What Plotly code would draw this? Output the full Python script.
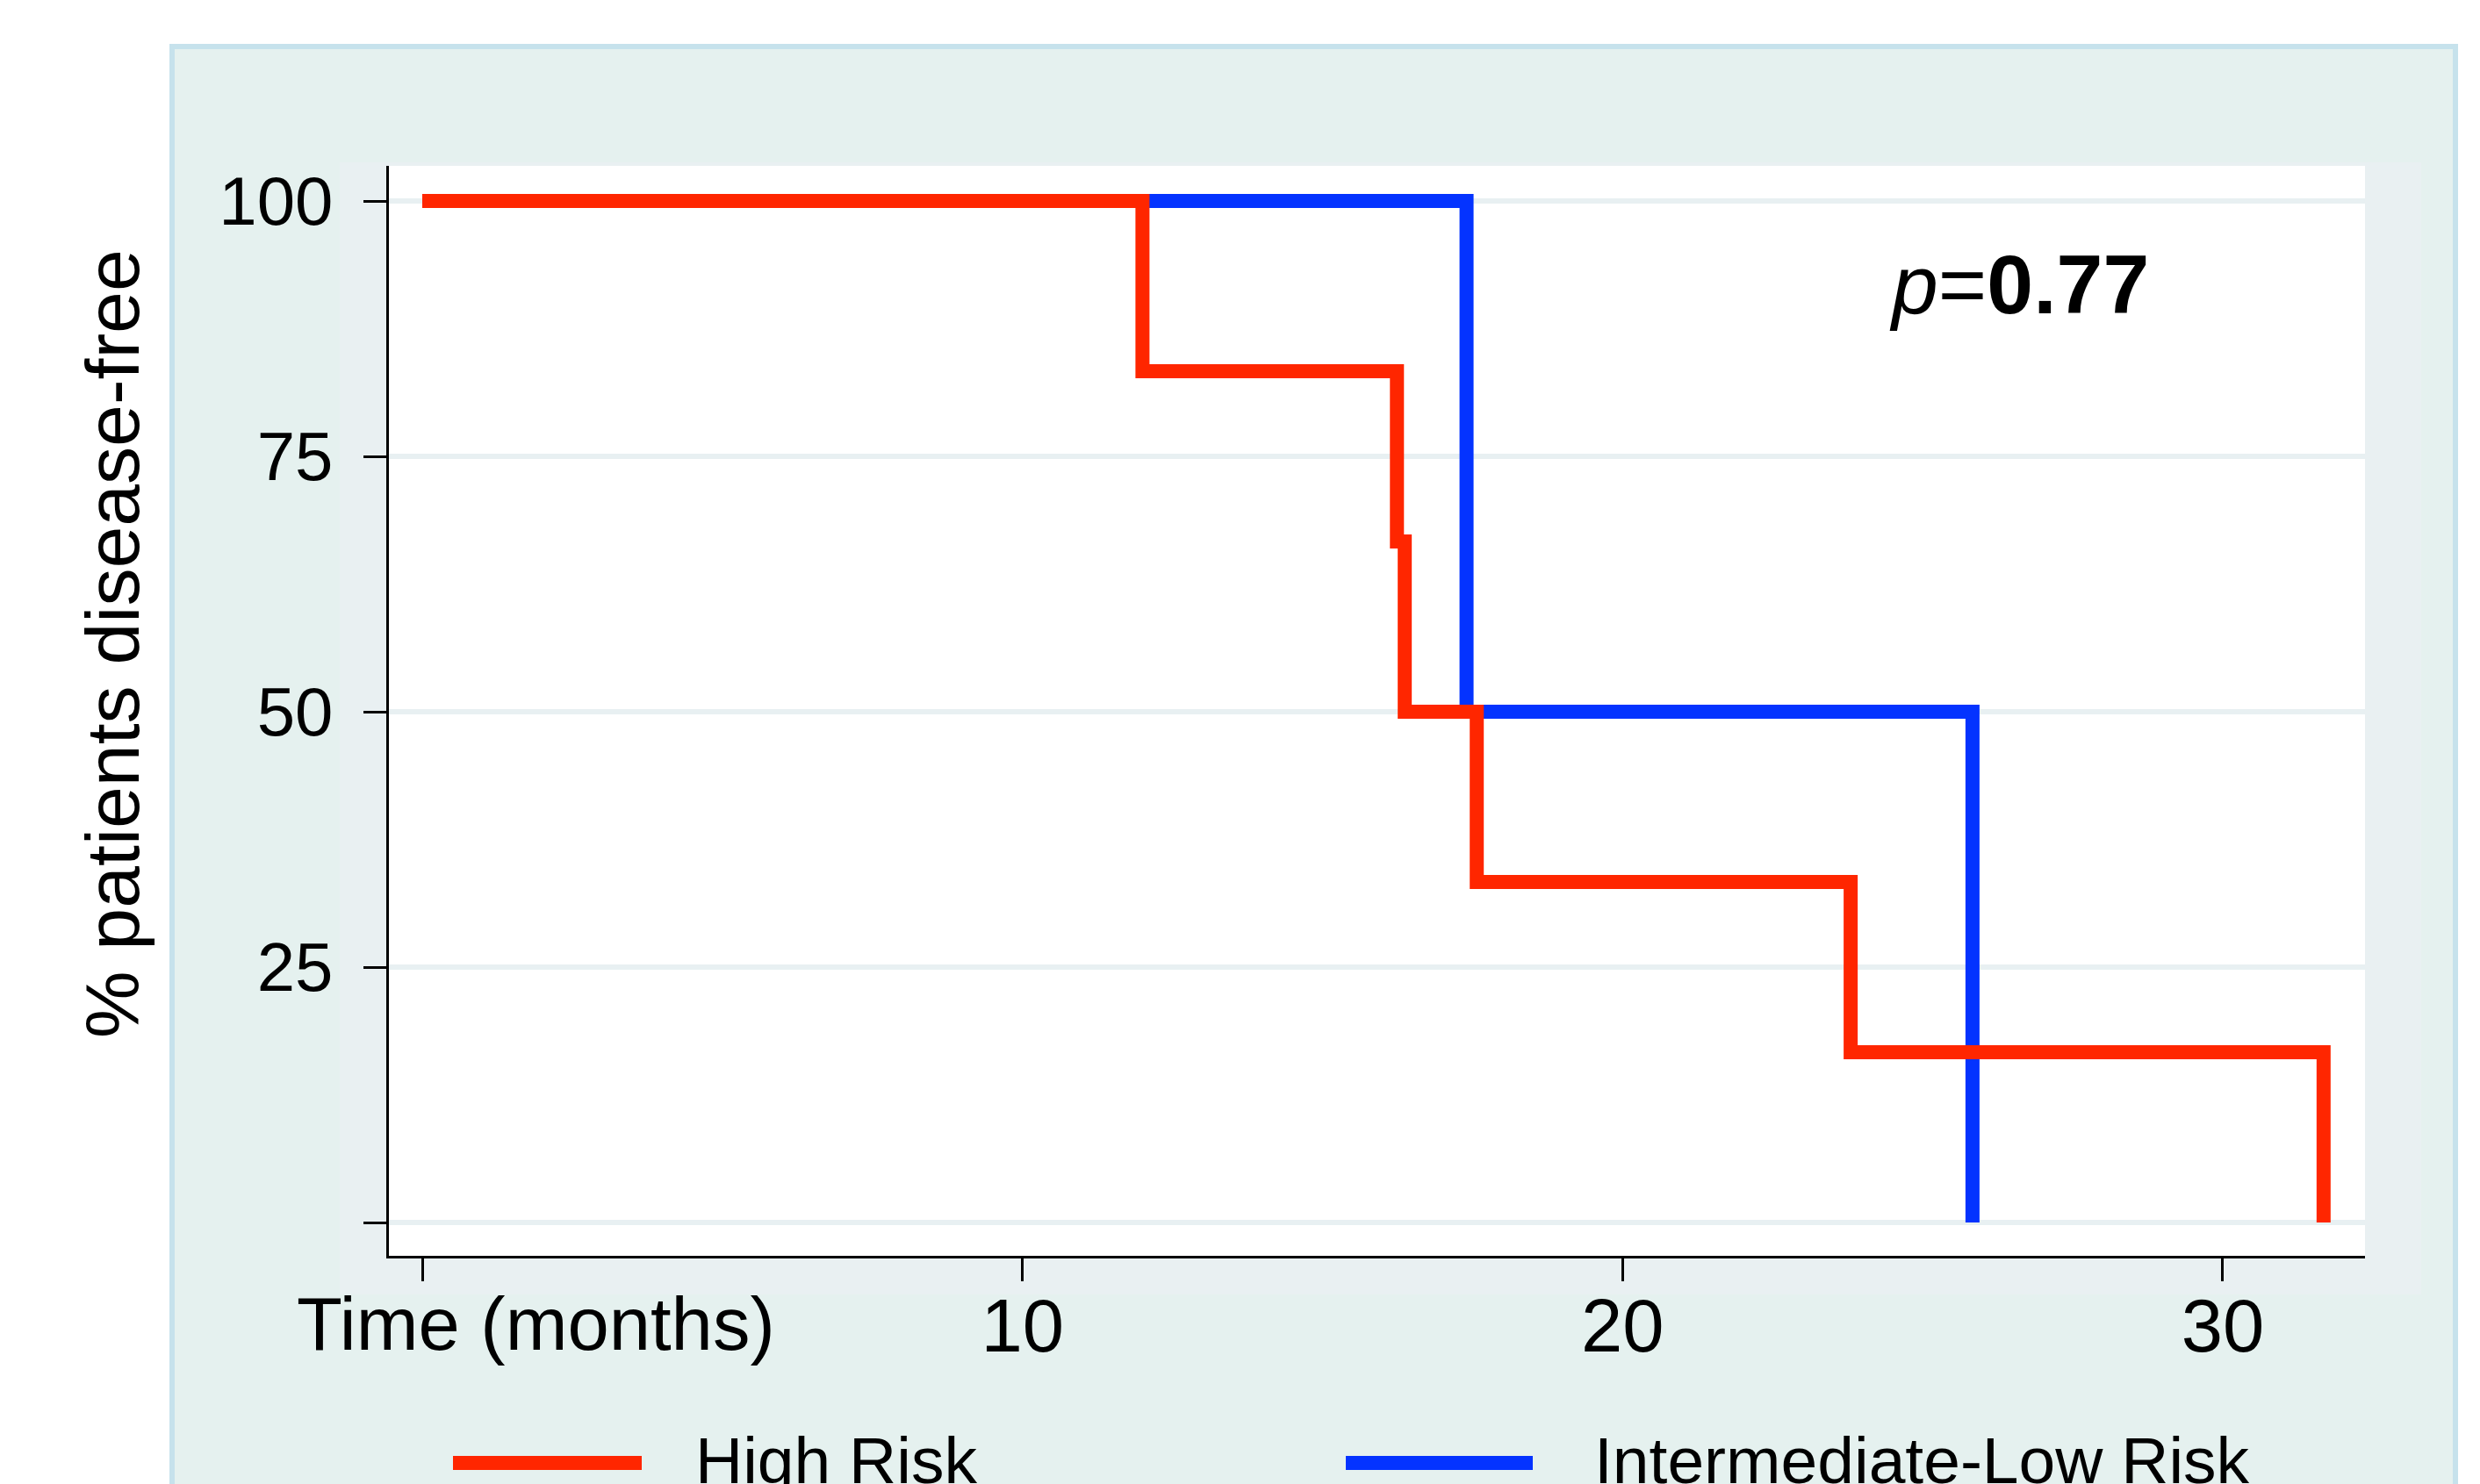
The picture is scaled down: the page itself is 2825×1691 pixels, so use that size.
import plotly.graph_objects as go

# ---- data ----
high_time = [0, 12.0, 16.24, 16.37, 17.57, 23.8, 31.68]
high_surv = [100, 83.33, 66.67, 50.0, 33.33, 16.67, 0]
low_time = [0, 17.4, 25.83]
low_surv = [100, 50.0, 0]

x_tickvals = [0, 10, 20, 30]
x_ticktext = ["", "10", "20", "30"]
y_tickvals = [0, 25, 50, 75, 100]
y_ticktext = ["", "25", "50", "75", "100"]

series_names = ["High Risk", "Intermediate-Low Risk"]
RED = "#FF2600"
BLUE = "#0433FF"
FONT = "Liberation Sans, Arial, sans-serif"

OFF = 8  # page body margin
W, H = 2825, 1691
# plot area in reference-screen pixels
L, R, T, B = 443, 2694, 189, 1431
Lf, Rf, Tf, Bf = L - OFF, R - OFF, T - OFF, B - OFF


def px(x):
    return (x - L) / (R - L)


def py(y):
    return (B - y) / (B - T)


fig = go.Figure()
fig.add_trace(go.Scatter(x=low_time, y=low_surv, mode="lines", line=dict(color=BLUE, width=16, shape="hv"),
                         name=series_names[1], showlegend=False, hoverinfo="skip"))
fig.add_trace(go.Scatter(x=high_time, y=high_surv, mode="lines", line=dict(color=RED, width=16, shape="hv"),
                         name=series_names[0], showlegend=False, hoverinfo="skip"))

shapes = [
    # outer panel
    dict(type="rect", xref="paper", yref="paper", x0=px(196), x1=px(2797), y0=py(1780), y1=py(53),
         fillcolor="#E5F1EF", line=dict(color="#C6E2EC", width=6), layer="below"),
    # inner region
    dict(type="rect", xref="paper", yref="paper", x0=px(387), x1=px(2758), y0=py(1475), y1=py(185),
         fillcolor="#E9F0F2", line=dict(width=0), layer="below"),
    # white plot area
    dict(type="rect", xref="paper", yref="paper", x0=0, x1=1, y0=0, y1=1,
         fillcolor="white", line=dict(width=0), layer="below"),
    # legend samples
    dict(type="line", xref="paper", yref="paper", x0=px(516), x1=px(731), y0=py(1667), y1=py(1667),
         line=dict(color=RED, width=16)),
    dict(type="line", xref="paper", yref="paper", x0=px(1533), x1=px(1746), y0=py(1667), y1=py(1667),
         line=dict(color=BLUE, width=16)),
]

annotations = [
    dict(text="% patients disease-free", xref="paper", yref="paper", x=px(128), y=py(734),
         textangle=-90, showarrow=False, xanchor="center", yanchor="middle",
         font=dict(family=FONT, size=86, color="black")),
    dict(text="Time (months)", xref="paper", yref="paper", x=px(610), y=py(1508),
         showarrow=False, xanchor="center", yanchor="middle",
         font=dict(family=FONT, size=85, color="black")),
    dict(text="<i>p</i>=<b>0.77</b>", xref="paper", yref="paper", x=px(2300), y=py(324),
         showarrow=False, xanchor="center", yanchor="middle",
         font=dict(family=FONT, size=95, color="black")),
    dict(text=series_names[0], xref="paper", yref="paper", x=px(790), y=py(1664),
         showarrow=False, xanchor="left", yanchor="middle",
         font=dict(family=FONT, size=75, color="black")),
    dict(text=series_names[1], xref="paper", yref="paper", x=px(1814), y=py(1664),
         showarrow=False, xanchor="left", yanchor="middle",
         font=dict(family=FONT, size=75, color="black")),
]

fig.update_layout(
    width=W, height=H,
    margin=dict(l=Lf, r=W - Rf, t=Tf, b=H - Bf, pad=0),
    paper_bgcolor="white",
    plot_bgcolor="white",
    shapes=shapes,
    annotations=annotations,
    showlegend=False,
    font=dict(family=FONT, color="black"),
)
fig.update_xaxes(
    range=[-0.556, 32.37], tickvals=x_tickvals, ticktext=x_ticktext,
    showgrid=False, zeroline=False, showline=True, linecolor="black", linewidth=3,
    ticks="outside", ticklen=26, tickwidth=3, tickcolor="black",
    ticklabelstandoff=-22,
    tickfont=dict(family=FONT, size=85, color="black"),
)
fig.update_yaxes(
    range=[-3.26, 103.44], tickvals=y_tickvals, ticktext=y_ticktext,
    showgrid=True, gridcolor="#E8F0F2", gridwidth=6, zeroline=False,
    showline=True, linecolor="black", linewidth=3,
    ticks="outside", ticklen=26, tickwidth=3, tickcolor="black",
    ticklabelstandoff=19,
    tickfont=dict(family=FONT, size=78, color="black"),
)

fig.write_html("out.html")
